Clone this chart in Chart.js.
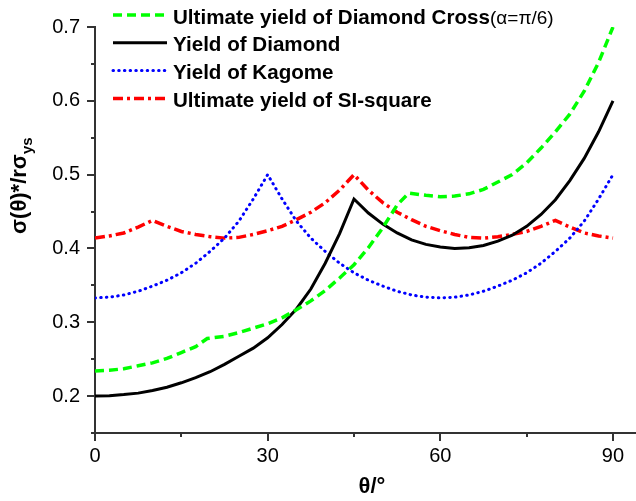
<!DOCTYPE html>
<html>
<head>
<meta charset="utf-8">
<script src="https://cdn.jsdelivr.net/npm/chart.js@4"></script>
<style>
  html, body { margin: 0; padding: 0; background: #fff; }
  #box { width: 636px; height: 501px; }
</style>
</head>
<body>
<div id="box"><canvas id="yield-chart"></canvas></div>
<script>
// loading angle θ in degrees, shared by Diamond, Kagome and SI-square
const angles = [0, 2.5, 5, 7.5, 10, 12.5, 15, 17.5, 20, 22.5, 25, 27.5, 30, 32.5, 35, 37.5, 40, 42.5,
  45, 47.5, 50, 52.5, 55, 57.5, 60, 62.5, 65, 67.5, 70, 72.5, 75, 77.5, 80, 82.5, 85, 87.5, 90];

const diamondYield = [0.200, 0.2005, 0.202, 0.204, 0.2075, 0.212, 0.218, 0.225, 0.233, 0.243, 0.254, 0.265,
  0.279, 0.297, 0.318, 0.345, 0.380, 0.420, 0.467, 0.448, 0.433, 0.421, 0.4115, 0.4055, 0.402, 0.400,
  0.401, 0.404, 0.410, 0.418, 0.430, 0.446, 0.466, 0.492, 0.522, 0.558, 0.600];

const kagomeYield = [0.333, 0.334, 0.337, 0.342, 0.349, 0.357, 0.367, 0.380, 0.396, 0.414, 0.437, 0.467,
  0.500, 0.467, 0.437, 0.414, 0.396, 0.380, 0.367, 0.357, 0.349, 0.342, 0.337, 0.334, 0.333, 0.334,
  0.337, 0.342, 0.349, 0.357, 0.367, 0.380, 0.396, 0.414, 0.437, 0.467, 0.500];

const siSquareYield = [0.414, 0.417, 0.421, 0.429, 0.438, 0.430, 0.423, 0.419, 0.416, 0.414, 0.415, 0.419,
  0.424, 0.430, 0.439, 0.449, 0.462, 0.479, 0.500, 0.479, 0.462, 0.449, 0.439, 0.430, 0.424, 0.419,
  0.415, 0.414, 0.416, 0.419, 0.423, 0.430, 0.438, 0.429, 0.421, 0.417, 0.414];

// Diamond Cross has its own kinks (≈19.5° and ≈54.5°)
const crossAngles = [0, 2.5, 5, 7.5, 10, 12.5, 15, 17.5, 19.5, 22.5, 25, 27.5, 30, 32.5, 35, 37.5, 40, 42.5,
  45, 47.5, 50, 52.5, 54.5, 57.5, 60, 62.5, 65, 67.5, 70, 72.5, 75, 77.5, 80, 82.5, 85, 87.5, 90];
const crossYield = [0.234, 0.235, 0.237, 0.241, 0.245, 0.251, 0.259, 0.267, 0.278, 0.281, 0.286, 0.292,
  0.298, 0.306, 0.317, 0.329, 0.343, 0.360, 0.378, 0.401, 0.428, 0.459, 0.475, 0.472, 0.470, 0.471,
  0.474, 0.480, 0.490, 0.500, 0.516, 0.536, 0.558, 0.582, 0.613, 0.652, 0.700];

const seriesLabels = ['Ultimate yield of Diamond Cross(α=π/6)', 'Yield of Diamond', 'Yield of Kagome', 'Ultimate yield of SI-square'];

const xMajor = [0, 30, 60, 90];
const xMinor = [15, 45, 75];
const yMajor = [0.2, 0.3, 0.4, 0.5, 0.6, 0.7];
const yMinor = [0.15, 0.25, 0.35, 0.45, 0.55, 0.65];

const axisColor = '#333';
const fontFamily = '"Liberation Sans", Arial, sans-serif';

function toPoints(xs, ys) {
  return xs.map((x, i) => ({ x: x, y: ys[i] }));
}

// outward major / minor tick marks
const axisTicks = {
  id: 'axisTicks',
  afterDraw(chart) {
    const ctx = chart.ctx;
    const area = chart.chartArea;
    const sx = chart.scales.x, sy = chart.scales.y;
    ctx.save();
    ctx.strokeStyle = axisColor;
    ctx.lineWidth = 2;
    ctx.beginPath();
    xMajor.forEach(v => { const p = Math.round(sx.getPixelForValue(v)); ctx.moveTo(p, area.bottom); ctx.lineTo(p, area.bottom + 8); });
    xMinor.forEach(v => { const p = Math.round(sx.getPixelForValue(v)); ctx.moveTo(p, area.bottom); ctx.lineTo(p, area.bottom + 4); });
    yMajor.forEach(v => { const p = Math.round(sy.getPixelForValue(v)); ctx.moveTo(area.left, p); ctx.lineTo(area.left - 8, p); });
    yMinor.forEach(v => { const p = Math.round(sy.getPixelForValue(v)); ctx.moveTo(area.left, p); ctx.lineTo(area.left - 4, p); });
    ctx.stroke();
    ctx.restore();
  }
};

// legend drawn inside the plot, upper left
const insideLegend = {
  id: 'insideLegend',
  afterDraw(chart) {
    const ctx = chart.ctx;
    ctx.save();
    chart.data.datasets.forEach((ds, i) => {
      const y = 15 + i * 27.8;
      ctx.strokeStyle = ds.borderColor;
      ctx.lineWidth = ds.borderWidth;
      ctx.lineCap = ds.borderCapStyle || 'butt';
      ctx.setLineDash(ds.borderDash || []);
      ctx.beginPath();
      ctx.moveTo(113, y);
      ctx.lineTo(167, y);
      ctx.stroke();
      ctx.setLineDash([]);

      ctx.fillStyle = '#000';
      ctx.textBaseline = 'alphabetic';
      ctx.textAlign = 'left';
      const cut = ds.label.indexOf('(');
      const main = cut > 0 ? ds.label.slice(0, cut) : ds.label;
      ctx.font = 'bold 20.6px ' + fontFamily;
      ctx.fillText(main, 173, y + 8.5);
      if (cut > 0) {
        const w = ctx.measureText(main).width;
        ctx.font = '19px ' + fontFamily;
        ctx.fillText(ds.label.slice(cut), 173 + w, y + 8.5);
      }
    });
    ctx.restore();
  }
};

// axis titles, y one with subscript
const axisTitles = {
  id: 'axisTitles',
  afterDraw(chart) {
    const ctx = chart.ctx;
    ctx.save();
    ctx.fillStyle = '#000';
    ctx.textBaseline = 'alphabetic';
    ctx.textAlign = 'center';
    ctx.font = 'bold 22px ' + fontFamily;
    ctx.fillText('θ/°', 372, 493);

    ctx.translate(26, 234);
    ctx.rotate(-Math.PI / 2);
    ctx.textAlign = 'left';
    const main = 'σ(θ)*/rσ';
    ctx.fillText(main, 0, 0);
    const w = ctx.measureText(main).width;
    ctx.font = 'bold 15px ' + fontFamily;
    ctx.fillText('ys', w, 6);
    ctx.restore();
  }
};

const ctx = document.getElementById('yield-chart').getContext('2d');
new Chart(ctx, {
  type: 'line',
  data: {
    datasets: [{
      label: seriesLabels[0],
      data: toPoints(crossAngles, crossYield),
      borderColor: '#00ff00',
      borderWidth: 3.5,
      borderDash: [9, 5]
    }, {
      label: seriesLabels[1],
      data: toPoints(angles, diamondYield),
      borderColor: '#000000',
      borderWidth: 3
    }, {
      label: seriesLabels[2],
      data: toPoints(angles, kagomeYield),
      borderColor: '#0000ff',
      borderWidth: 3,
      borderCapStyle: 'round',
      borderDash: [0.5, 5.2]
    }, {
      label: seriesLabels[3],
      data: toPoints(angles, siSquareYield),
      borderColor: '#ff0000',
      borderWidth: 3.5,
      borderDash: [10, 4, 3, 4]
    }]
  },
  options: {
    responsive: true,
    maintainAspectRatio: false,
    animation: false,
    layout: { padding: { top: 24, right: 0, left: 0, bottom: 0 } },
    elements: { point: { radius: 0 }, line: { tension: 0, fill: false } },
    plugins: { legend: { display: false }, tooltip: { enabled: false } },
    scales: {
      x: {
        type: 'linear',
        min: 0,
        max: 94,
        afterBuildTicks: s => { s.ticks = xMajor.map(v => ({ value: v })); },
        afterFit: s => { s.height = 68; },
        grid: { display: false, drawTicks: false },
        border: { display: true, color: axisColor, width: 2 },
        ticks: { color: '#000', padding: 11, font: { family: fontFamily, size: 20 }, maxRotation: 0 }
      },
      y: {
        type: 'linear',
        min: 0.15,
        max: 0.7,
        afterBuildTicks: s => { s.ticks = yMajor.map(v => ({ value: v })); },
        afterFit: s => { s.width = 95; },
        grid: { display: false, drawTicks: false },
        border: { display: true, color: axisColor, width: 2 },
        ticks: { color: '#000', padding: 15, font: { family: fontFamily, size: 20 }, callback: v => v.toFixed(1) }
      }
    }
  },
  plugins: [axisTicks, insideLegend, axisTitles]
});
</script>
</body>
</html>
